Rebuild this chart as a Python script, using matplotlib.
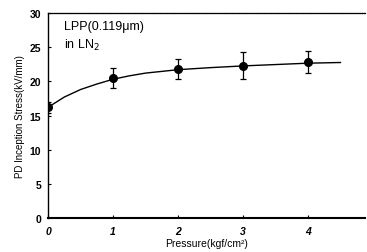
import matplotlib
matplotlib.use("Agg")
import matplotlib.pyplot as plt

pressure = [0, 1, 2, 3, 4]
stress = [16.2, 20.5, 21.8, 22.3, 22.8]
err = [0.8, 1.5, 1.5, 2.0, 1.6]

fit_x = [0, 0.25, 0.5, 0.75, 1.0, 1.25, 1.5, 1.75, 2.0, 2.5, 3.0, 3.5, 4.0, 4.5]
fit_y = [16.2, 17.7, 18.8, 19.6, 20.3, 20.8, 21.2, 21.45, 21.7, 22.0, 22.25, 22.45, 22.65, 22.75]

xticks = [0, 1, 2, 3, 4]
yticks = [0, 5, 10, 15, 20, 25, 30]

plt.rcParams['font.family'] = ['Liberation Sans', 'DejaVu Sans']
fig = plt.figure(figsize=(3.67, 2.53), dpi=100)
ax = fig.add_axes([0.131, 0.134, 0.864, 0.811])

ax.plot(fit_x, fit_y, color='black', lw=1.0)
ax.errorbar(pressure, stress, yerr=err, fmt='o', color='black', ms=5.5,
            capsize=2.5, elinewidth=0.9, capthick=0.9)

ax.set_xlim(0, 4.88)
ax.set_ylim(0, 30)
ax.set_xticks(xticks)
ax.set_xticklabels([str(t) for t in xticks], fontstyle='italic', fontweight='bold')
ax.set_yticks(yticks)
ax.tick_params(direction='in', length=2.5, width=0.8, labelsize=7.5)
ax.tick_params(axis='x', pad=6)
ax.tick_params(axis='y', pad=5)
for lab in ax.get_yticklabels():
    lab.set_fontweight('bold')

ax.spines['right'].set_visible(False)
ax.spines['top'].set_linestyle((0, (1, 0.7)))
ax.spines['top'].set_linewidth(0.9)
ax.spines['left'].set_linewidth(1.0)
ax.spines['bottom'].set_linewidth(1.5)

ax.set_xlabel('Pressure(kgf/cm²)', fontsize=7.5, labelpad=1)
ax.set_ylabel('PD Inception Stress(kV/mm)', fontsize=7, labelpad=3)

ax.text(0.05, 0.965, 'LPP(0.119μm)', transform=ax.transAxes, fontsize=9,
        va='top', ha='left')
ax.text(0.05, 0.885, 'in LN$_2$', transform=ax.transAxes, fontsize=9,
        va='top', ha='left')

fig.savefig('out.png', dpi=100)
